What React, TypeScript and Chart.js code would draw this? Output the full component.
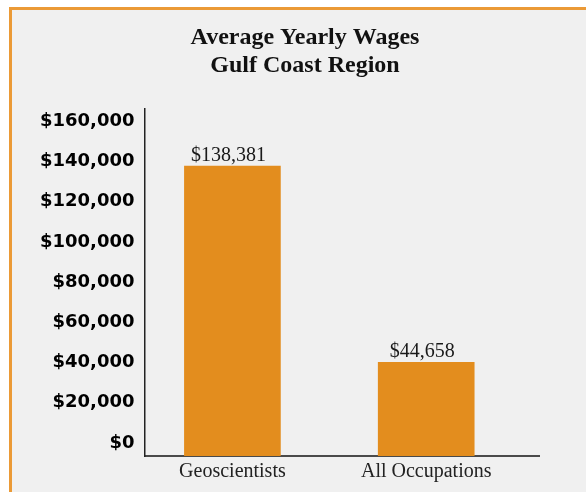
import React, { useEffect, useRef } from "react";
import { Chart, registerables } from "chart.js";

Chart.register(...registerables);

const TITLE_LINES = ["Average Yearly Wages", "Gulf Coast Region"];
const CATEGORIES = ["Geoscientists", "All Occupations"];
const WAGES = [138381, 44658];
const Y_TICKS = [0, 20000, 40000, 60000, 80000, 100000, 120000, 140000, 160000];
const LABEL_AXIS_RANGE = [-6460, 165963];
const BAR_AXIS_RANGE = [0, 165553];
const X_RANGE = [-0.4536, 1.582];

const fmt = (v: number) => "$" + Number(v).toLocaleString("en-US");

const valueLabels = {
  id: "valueLabels",
  afterDatasetsDraw(chart: any) {
    const ctx = chart.ctx;
    const meta = chart.getDatasetMeta(0);
    ctx.save();
    ctx.font = "20px 'Liberation Serif'";
    ctx.fillStyle = "#1a1a1a";
    ctx.textAlign = "center";
    ctx.textBaseline = "alphabetic";
    meta.data.forEach((el: any, i: number) => {
      ctx.fillText(fmt(WAGES[i]), el.x - 4, el.y - 5);
    });
    ctx.restore();
  },
};

export default function App() {
  const ref = useRef<HTMLCanvasElement | null>(null);

  useEffect(() => {
    if (!ref.current) return;
    const chart = new Chart(ref.current, {
      type: "bar",
      data: {
        datasets: [
          {
            data: CATEGORIES.map((_, i) => ({ x: i, y: WAGES[i] })),
            backgroundColor: "#e38d1e",
            barThickness: 96,
            xAxisID: "x",
            yAxisID: "yb",
          },
        ],
      },
      options: {
        animation: false,
        responsive: true,
        maintainAspectRatio: false,
        layout: { padding: { left: 18, right: 18, top: 14, bottom: 4 } },
        plugins: {
          legend: { display: false },
          tooltip: { enabled: false },
          title: {
            display: true,
            text: TITLE_LINES,
            color: "#111",
            font: { family: "'Liberation Serif'", size: 24, weight: "bold", lineHeight: 1.15 },
            padding: { top: 0, bottom: 30 },
          },
        },
        scales: {
          x: {
            type: "linear",
            offset: false,
            min: X_RANGE[0],
            max: X_RANGE[1],
            grid: { display: false, drawTicks: false, offset: false },
            border: { display: true, color: "#4a4a4a", width: 2 },
            afterBuildTicks: (s: any) => {
              s.ticks = CATEGORIES.map((_, i) => ({ value: i }));
            },
            ticks: {
              callback: (v: any) => CATEGORIES[v] ?? "",
              padding: 4,
              color: "#222",
              maxRotation: 0,
              autoSkip: false,
              font: { family: "'Liberation Serif'", size: 20 },
            },
          },
          y: {
            type: "linear",
            position: "left",
            min: LABEL_AXIS_RANGE[0],
            max: LABEL_AXIS_RANGE[1],
            grid: { display: false, drawTicks: false },
            border: { display: true, color: "#222", width: 1.5 },
            afterBuildTicks: (s: any) => {
              s.ticks = Y_TICKS.map((v) => ({ value: v }));
            },
            ticks: {
              callback: (v: any) => fmt(v),
              padding: 10,
              color: "#000",
              font: { family: "'DejaVu Sans'", size: 18, weight: "bold" },
            },
          },
          yb: {
            type: "linear",
            position: "right",
            display: true,
            min: BAR_AXIS_RANGE[0],
            max: BAR_AXIS_RANGE[1],
            grid: { display: false, drawTicks: false },
            border: { display: false },
            ticks: { display: false },
            afterFit: (s: any) => {
              s.width = 41;
            },
          },
        },
      } as any,
      plugins: [valueLabels],
    });
    return () => chart.destroy();
  }, []);

  return (
    <div
      style={{
        position: "fixed",
        left: 9,
        top: 7,
        width: 600,
        height: 500,
        borderTop: "3px solid #eb9a36",
        borderLeft: "3px solid #eb9a36",
        background: "#f0f0f0",
        overflow: "hidden",
      }}
    >
      <div style={{ position: "relative", width: 586, height: 482 }}>
        <canvas ref={ref} />
      </div>
    </div>
  );
}
